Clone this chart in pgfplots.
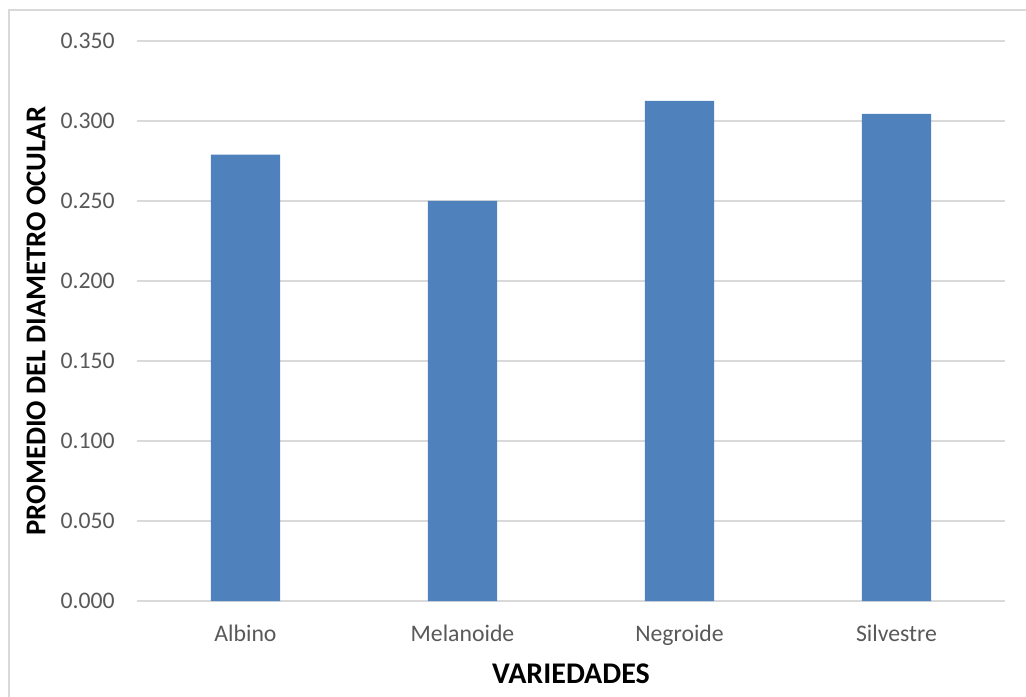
\documentclass[border=0pt]{standalone}
\usepackage{pgfplots}
\pgfplotsset{compat=1.18}
\usepackage{fontspec}
\setmainfont{Carlito}
\definecolor{barblue}{HTML}{4F81BD}
\definecolor{gridgray}{HTML}{D9D9D9}
\definecolor{ticktext}{HTML}{595959}
\begin{document}
\begin{tikzpicture}
\useasboundingbox (0,0) rectangle (769.5pt,522.75pt);
\fill[white] (0,0) rectangle (769.5pt,522.75pt);
\draw[gridgray, line width=1.5pt] (6.75pt,-5pt) |- (780pt,515.25pt);
\begin{axis}[
  at={(102.75pt,72pt)}, anchor=south west,
  scale only axis,
  width=651pt, height=420pt,
  xmin=-0.5, xmax=3.5,
  ymin=0, ymax=0.35,
  ybar, bar width=0.318,
  axis line style={draw=none},
  ymajorgrids=true,
  grid style={gridgray, line width=1.1pt},
  xtick={0,1,2,3},
  xticklabels={Albino,Melanoide,Negroide,Silvestre},
  ytick={0,0.05,0.1,0.15,0.2,0.25,0.3,0.35},
  yticklabels={0.000,0.050,0.100,0.150,0.200,0.250,0.300,0.350},
  major tick length=0pt,
  tick style={draw=none},
  tick label style={font=\fontsize{17.8}{20}\selectfont, text=ticktext},
  yticklabel style={anchor=east, inner sep=0pt, xshift=-16.5pt},
  xticklabel style={anchor=north, inner sep=0pt, yshift=-18pt},
  xlabel={VARIEDADES},
  ylabel={PROMEDIO DEL DIAMETRO OCULAR},
  xlabel style={font=\bfseries\fontsize{22.5}{26}\selectfont, text=black, at={(axis description cs:0.5,-0.1304)}, anchor=center},
  ylabel style={font=\bfseries\fontsize{21.5}{25}\selectfont, text=black, at={(axis description cs:-0.1164,0.5)}, anchor=center},
  clip=false,
]
\addplot[fill=barblue, draw=none] coordinates {(0,0.279) (1,0.250) (2,0.3125) (3,0.3044)};
\end{axis}
\end{tikzpicture}
\end{document}
